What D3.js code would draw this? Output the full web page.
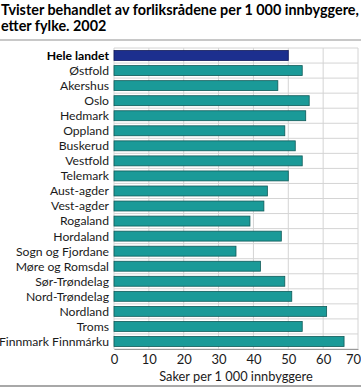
<!DOCTYPE html>
<html>
<head>
<meta charset="utf-8">
<script src="https://cdn.jsdelivr.net/npm/d3@7"></script>
<style>
  body { margin: 0; background: #fff; }
  svg { display: block; font-family: Lato, 'DejaVu Sans', sans-serif; }
</style>
</head>
<body>
<div id="chart"></div>
<script>
// data
const fylker = ['Hele landet', 'Østfold', 'Akershus', 'Oslo', 'Hedmark', 'Oppland', 'Buskerud',
  'Vestfold', 'Telemark', 'Aust-agder', 'Vest-agder', 'Rogaland', 'Hordaland', 'Sogn og Fjordane',
  'Møre og Romsdal', 'Sør-Trøndelag', 'Nord-Trøndelag', 'Nordland', 'Troms', 'Finnmark Finnmárku'];
const saker = [50, 54, 47, 56, 55, 49, 52, 54, 50, 44, 43, 39, 48, 35, 42, 49, 51, 61, 54, 66];
const xTicks = [0, 10, 20, 30, 40, 50, 60, 70];

const width = 361, height = 387;
const margin = {top: 48, right: 3, bottom: 38, left: 114};

const svg = d3.select('#chart').append('svg')
  .attr('width', width).attr('height', height);

// title, shrunk to fit the width like the original
const t1 = svg.append('text').attr('x', 1).attr('y', 15)
  .attr('font-size', 15).attr('font-weight', 'bold').attr('fill', '#000')
  .text('Tvister behandlet av forliksrådene per 1 000 innbyggere,');
const t2 = svg.append('text').attr('x', 1).attr('y', 31)
  .attr('font-size', 15).attr('font-weight', 'bold').attr('fill', '#000')
  .text('etter fylke. 2002');
const fit = Math.min(1, 358 / t1.node().getComputedTextLength());
t1.attr('font-size', 15 * fit);
t2.attr('font-size', 15 * fit);

svg.append('rect').attr('x', 0).attr('y', 39).attr('width', width).attr('height', 2).attr('fill', '#c8c8c8');
svg.append('rect').attr('x', 0).attr('y', 385).attr('width', width).attr('height', 2).attr('fill', '#a8a8a8');

const x = d3.scaleLinear().domain([0, 70]).range([margin.left, width - margin.right]);
const y = d3.scaleBand().domain(fylker).range([margin.top, height - margin.bottom]).paddingInner(0.34).paddingOuter(0.17);

const g = svg.append('g');

// vertical grid
g.selectAll('.vgrid').data(xTicks).enter().append('line')
  .attr('x1', d => x(d)).attr('x2', d => x(d))
  .attr('y1', margin.top).attr('y2', height - margin.bottom)
  .attr('stroke', '#d4d4d4').attr('stroke-width', 1);

// horizontal row separators
const step = y.step();
const rowLines = d3.range(fylker.length + 1);
g.selectAll('.hgrid').data(rowLines).enter().append('line')
  .attr('x1', margin.left).attr('x2', width - margin.right)
  .attr('y1', i => margin.top + i * step).attr('y2', i => margin.top + i * step)
  .attr('stroke', '#d4d4d4').attr('stroke-width', 1);

// bars
g.selectAll('.bar').data(fylker).enter().append('rect')
  .attr('x', x(0))
  .attr('y', d => y(d))
  .attr('width', (d, i) => x(saker[i]) - x(0))
  .attr('height', y.bandwidth())
  .attr('fill', (d, i) => i === 0 ? '#1c2f8e' : '#1a9a98')
  .attr('stroke', (d, i) => i === 0 ? '#10195a' : '#0f5a58')
  .attr('stroke-width', 0.8);

// category labels
g.selectAll('.lab').data(fylker).enter().append('text')
  .attr('x', margin.left - 5)
  .attr('y', d => y(d) + y.bandwidth() / 2)
  .attr('dy', '0.36em')
  .attr('text-anchor', 'end')
  .attr('font-size', 12.2)
  .attr('font-weight', (d, i) => i === 0 ? 'bold' : 'normal')
  .attr('fill', (d, i) => i === 0 ? '#000' : '#1a1a1a')
  .text(d => d);

// x axis
const xAxis = d3.axisBottom(x).tickValues(xTicks).tickSize(0).tickPadding(6);
const ax = svg.append('g')
  .attr('transform', `translate(0,${height - margin.bottom})`)
  .call(xAxis);
ax.select('.domain').attr('stroke', '#999');
ax.selectAll('text').attr('font-size', 13).attr('fill', '#1a1a1a')
  .attr('font-family', "Lato, 'DejaVu Sans', sans-serif");
// keep the last label inside the picture
ax.selectAll('.tick').filter(d => d === 70).select('text')
  .attr('text-anchor', 'end').attr('x', 2.5);

svg.append('text')
  .attr('x', (x(0) + x(70)) / 2).attr('y', 381)
  .attr('text-anchor', 'middle').attr('font-size', 12.8).attr('fill', '#1a1a1a')
  .text('Saker per 1 000 innbyggere');
</script>
</body>
</html>
